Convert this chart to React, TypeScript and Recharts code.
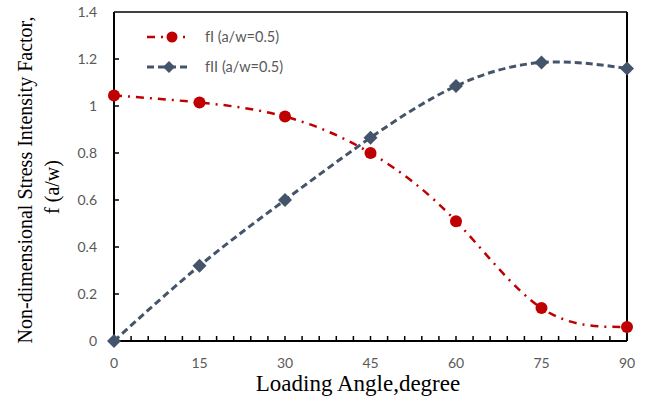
import { LineChart, Line, XAxis, YAxis, ReferenceLine } from "recharts";

const angles = [0, 15, 30, 45, 60, 75, 90];
const fI = [1.045, 1.015, 0.955, 0.8, 0.51, 0.14, 0.06];
const fII = [0, 0.32, 0.6, 0.865, 1.085, 1.185, 1.16];
const xLabels = [0, 15, 30, 45, 60, 75, 90];
const yTicks = [0, 0.2, 0.4, 0.6, 0.8, 1, 1.2, 1.4];
const xMinor = Array.from({ length: 29 }, (_, i) => (i + 1) * 3);

const data = angles.map((a, i) => ({ angle: a, fI: fI[i], fII: fII[i] }));

const RED = "#C00000";
const BLUE = "#44546A";
const TICK_FONT = "Lato, 'Open Sans', sans-serif";
const serif = { fontFamily: '"Times New Roman", "Liberation Serif", serif' };

const W = 651;
const H = 403;
const M = { top: 12, right: 24, left: 0, bottom: 0 };
const Y_AXIS_W = 114;
const X_AXIS_H = 62;
// plot box, same numbers the chart uses for its layout
const PL = M.left + Y_AXIS_W;
const PR = W - M.right;
const PT = M.top;
const PB = H - M.bottom - X_AXIS_H;
const sx = (v: number) => PL + ((PR - PL) * v) / 90;
const sy = (v: number) => PB - ((PB - PT) * v) / 1.4;

const Diamond = (p: any) => {
  const { cx, cy } = p;
  if (cx == null || cy == null) return null;
  const s = 7;
  return <path d={`M${cx},${cy - s}L${cx + s},${cy}L${cx},${cy + s}L${cx - s},${cy}Z`} fill={BLUE} />;
};

const XTick = (p: any) => {
  const { x, y, payload } = p;
  return (
    <text x={x} y={y + 27} textAnchor="middle" fontSize={14} fill="#595959" fontFamily={TICK_FONT}>
      {payload.value}
    </text>
  );
};

const YTick = (p: any) => {
  const { x, y, payload } = p;
  return (
    <text x={x - 17} y={y + 5} textAnchor="end" fontSize={14} fill="#595959" fontFamily={TICK_FONT}>
      {String(payload.value)}
    </text>
  );
};

const tickPath =
  xMinor.map((t) => `M${sx(t)},${PB}V${PB - 5}`).join("") +
  yTicks.slice(1, -1).map((t) => `M${PL},${sy(t)}H${PL + 5}`).join("");

export default function App() {
  return (
    <div style={{ position: "absolute", left: 0, top: 0, width: W, height: H, background: "#fff" }}>
      <LineChart width={W} height={H} data={data} margin={M}>
        <XAxis
          dataKey="angle"
          type="number"
          domain={[0, 90]}
          ticks={xLabels}
          interval={0}
          tickSize={0}
          tickMargin={0}
          tick={<XTick />}
          height={X_AXIS_H}
          axisLine={{ stroke: "#000", strokeWidth: 2 }}
          tickLine={false}
        />
        <YAxis
          type="number"
          domain={[0, 1.4]}
          ticks={yTicks}
          interval={0}
          tickSize={0}
          tickMargin={0}
          tick={<YTick />}
          width={Y_AXIS_W}
          axisLine={{ stroke: "#000", strokeWidth: 2 }}
          tickLine={false}
        />
        <ReferenceLine y={1.4} stroke="#000" strokeWidth={1.5} />
        <ReferenceLine x={90} stroke="#000" strokeWidth={2} />
        <Line
          type="natural"
          dataKey="fI"
          stroke={RED}
          strokeWidth={2.5}
          strokeDasharray="8 6 2 6"
          dot={{ r: 6, fill: RED, stroke: RED, strokeWidth: 0 }}
          activeDot={false}
          isAnimationActive={false}
        />
        <Line
          type="natural"
          dataKey="fII"
          stroke={BLUE}
          strokeWidth={3}
          strokeDasharray="7 4"
          dot={<Diamond />}
          activeDot={false}
          isAnimationActive={false}
        />
      </LineChart>
      <svg width={W} height={H} style={{ position: "absolute", left: 0, top: 0, pointerEvents: "none" }}>
        <path d={tickPath} stroke="#000" strokeWidth={1.5} fill="none" />
        <g transform="translate(140,22)">
          <line x1={7} x2={50} y1={15} y2={15} stroke={RED} strokeWidth={2.5} strokeDasharray="8 6 2 6" />
          <circle cx={32} cy={15} r={5.5} fill={RED} />
          <text x={65} y={20} fontSize={14.5} fill="#595959" fontFamily={TICK_FONT}>fI (a/w=0.5)</text>
          <line x1={7} x2={50} y1={45} y2={45} stroke={BLUE} strokeWidth={3} strokeDasharray="7 4" />
          <path d="M29,39L35,45L29,51L23,45Z" fill={BLUE} />
          <text x={65} y={50} fontSize={14.5} fill="#595959" fontFamily={TICK_FONT}>fII (a/w=0.5)</text>
        </g>
        <text x={358} y={391} textAnchor="middle" fontSize={23} style={serif} fill="#000">
          Loading Angle,degree
        </text>
        <text transform="translate(32,180) rotate(-90)" textAnchor="middle" fontSize={20} style={serif} fill="#000">
          Non-dimensional Stress Intensity Factor,
        </text>
        <text transform="translate(59,187) rotate(-90)" textAnchor="middle" fontSize={20} style={serif} fill="#000">
          f (a/w)
        </text>
      </svg>
    </div>
  );
}
